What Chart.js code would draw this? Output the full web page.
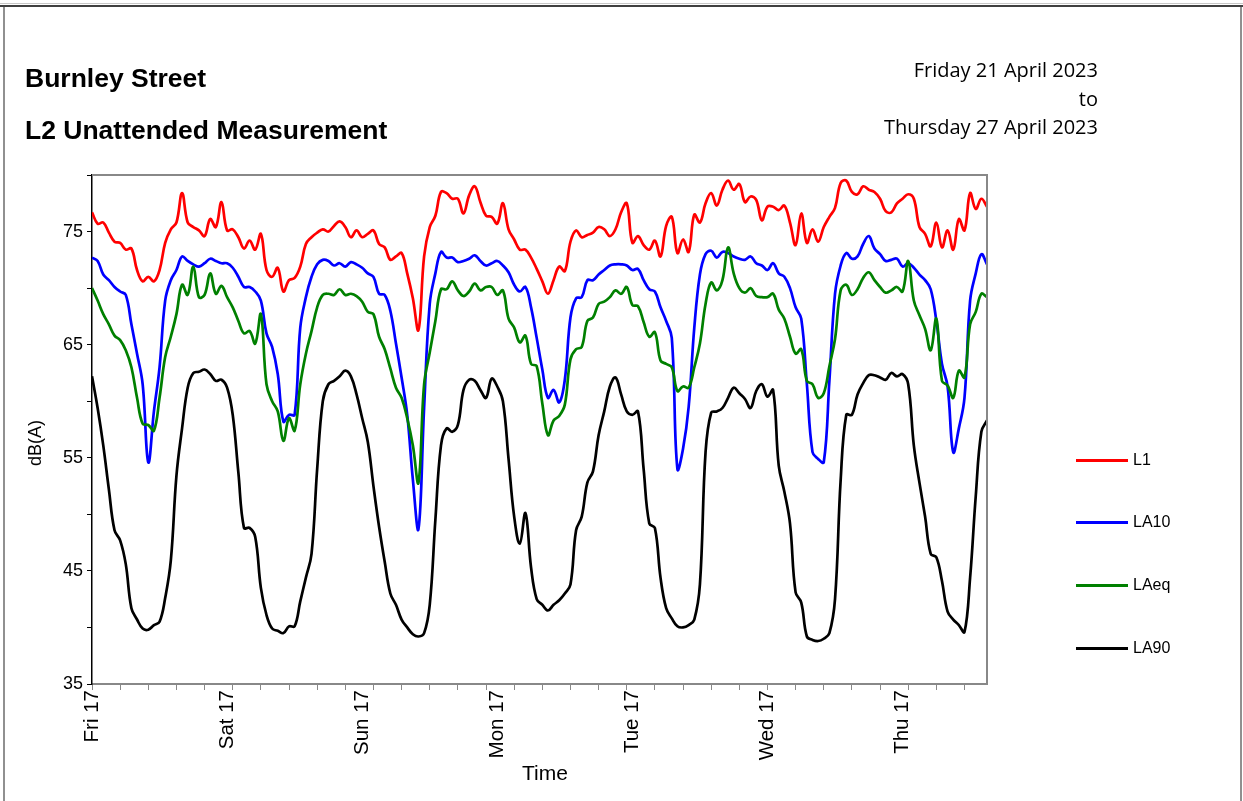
<!DOCTYPE html>
<html>
<head>
<meta charset="utf-8">
<script src="https://cdn.jsdelivr.net/npm/chart.js@4.4.0/dist/chart.umd.min.js"></script>
<style>
  body { margin: 0; background: #fff; font-family: "Liberation Sans", Arial, sans-serif; }
  #page { position: relative; width: 1243px; height: 801px; overflow: hidden; }
  #chart { position: absolute; left: 0; top: 0; }
  .abs { position: absolute; white-space: nowrap; line-height: 1; color: #000; }
  .title { font-weight: bold; font-size: 26.5px; left: 25px; }
  .date { font-family: "Open Sans", sans-serif; font-size: 20px; right: 145px; text-align: right; }
  .leg { position: absolute; left: 1076px; height: 16px; }
  .leg span.line { position: absolute; left: 0; top: 7px; width: 52px; height: 3px; }
  .leg span.txt { position: absolute; left: 57px; top: 0; font-size: 16px; line-height: 16px; }
</style>
</head>
<body>
<div id="page">
  <div style="position:absolute;left:0;top:3px;width:1243px;height:1px;background:#c8c8c8"></div>
  <div style="position:absolute;left:0;top:5px;width:1243px;height:2px;background:#404040"></div>
  <div style="position:absolute;left:3px;top:7px;width:2px;height:794px;background:#909090"></div>
  <div style="position:absolute;left:1240px;top:7px;width:2px;height:794px;background:#909090"></div>

  <canvas id="chart" width="1243" height="801"></canvas>

  <div class="abs title" style="top:65px">Burnley Street</div>
  <div class="abs title" style="top:117px">L2 Unattended Measurement</div>
  <div class="abs date" style="top:60px">Friday 21 April 2023</div>
  <div class="abs date" style="top:89px">to</div>
  <div class="abs date" style="top:117px">Thursday 27 April 2023</div>

  <div class="abs" style="font-size:21px;left:522px;top:762px">Time</div>
  <div class="abs" style="font-size:18px;left:35px;top:443px;transform:translate(-50%,-50%) rotate(-90deg)">dB(A)</div>

  <div class="leg" style="top:452px"><span class="line" style="background:#ff0000"></span><span class="txt">L1</span></div>
  <div class="leg" style="top:514px"><span class="line" style="background:#0000ff"></span><span class="txt">LA10</span></div>
  <div class="leg" style="top:577px"><span class="line" style="background:#008000"></span><span class="txt">LAeq</span></div>
  <div class="leg" style="top:640px"><span class="line" style="background:#000000"></span><span class="txt">LA90</span></div>
</div>
<script>
// hourly values starting Fri 17:00
const dayLabels = ['Fri 17', 'Sat 17', 'Sun 17', 'Mon 17', 'Tue 17', 'Wed 17', 'Thu 17'];

const l1 = [
  76.7, 75.7, 75.8, 74.9, 74.1, 74.0, 73.4, 73.5, 71.6, 70.6, 71.0, 70.6, 71.6, 74.0, 75.2, 75.8, 78.4, 75.8, 75.4, 75.1,
  74.6, 76.1, 75.4, 77.6, 75.1, 75.2, 74.5, 73.5, 74.2, 73.4, 74.8, 71.6, 71.0, 71.8, 69.7, 70.7, 70.9, 71.9, 73.9, 74.5,
  74.9, 75.2, 75.0, 75.5, 75.9, 75.4, 74.5, 75.1, 74.5, 74.8, 75.1, 73.9, 73.6, 72.5, 72.8, 73.1, 71.3, 69.1, 66.3, 72.8,
  75.4, 76.4, 78.5, 78.4, 77.9, 77.9, 76.6, 78.2, 79.0, 77.6, 76.4, 76.3, 75.7, 77.5, 75.2, 74.3, 73.4, 73.4, 72.7, 71.7,
  70.6, 69.5, 70.7, 71.9, 71.5, 74.1, 75.1, 74.5, 74.7, 74.9, 75.4, 75.2, 74.6, 75.2, 76.7, 77.5, 74.0, 74.6, 73.8, 73.4,
  74.2, 72.8, 75.5, 76.3, 73.1, 74.3, 73.2, 76.5, 75.8, 77.5, 78.4, 77.3, 78.7, 79.5, 78.7, 79.2, 77.6, 78.1, 77.8, 76.0,
  77.2, 77.2, 76.9, 77.3, 75.8, 73.8, 76.6, 74.0, 75.2, 74.1, 75.4, 76.3, 77.1, 79.3, 79.5, 78.5, 78.3, 79.0, 78.7, 78.5,
  77.9, 76.8, 76.7, 77.5, 77.9, 78.3, 77.9, 75.4, 74.8, 73.7, 75.8, 73.6, 75.1, 73.4, 76.1, 75.1, 78.4, 77.0, 77.9, 77.2
];

const la10 = [
  72.7, 72.4, 71.2, 70.7, 70.1, 69.7, 69.4, 66.8, 64.2, 61.5, 54.6, 59.1, 63.0, 68.9, 70.7, 71.6, 72.8, 72.4, 72.1, 71.9,
  72.2, 72.6, 72.4, 72.2, 72.2, 71.8, 71.0, 70.1, 70.1, 69.7, 68.9, 66.0, 64.8, 62.4, 58.2, 58.8, 58.8, 66.5, 69.2, 71.0,
  72.1, 72.5, 72.4, 72.0, 72.2, 71.9, 72.3, 72.1, 71.8, 71.3, 71.0, 69.5, 69.4, 68.0, 65.1, 62.1, 58.8, 53.1, 48.7, 59.4,
  68.6, 71.3, 73.2, 72.7, 72.7, 72.3, 72.4, 72.6, 72.9, 72.4, 72.0, 72.2, 72.4, 72.0, 71.4, 70.3, 69.7, 70.1, 68.3, 65.6,
  62.8, 60.3, 61.0, 59.9, 61.9, 67.4, 69.1, 69.2, 70.7, 70.7, 71.2, 71.6, 72.0, 72.1, 72.1, 72.0, 71.6, 71.7, 70.7, 69.9,
  69.7, 68.3, 67.1, 65.6, 54.0, 55.8, 59.5, 66.5, 71.2, 73.0, 73.3, 72.7, 73.2, 73.1, 72.8, 72.6, 72.5, 72.8, 72.2, 72.0,
  71.6, 72.2, 71.3, 71.0, 70.0, 68.3, 67.3, 61.5, 55.5, 54.9, 54.6, 61.8, 69.5, 72.0, 73.1, 72.6, 72.8, 73.9, 74.6, 73.5,
  73.0, 72.4, 72.5, 72.6, 71.9, 72.2, 71.8, 71.2, 70.7, 69.9, 67.1, 63.3, 61.3, 55.5, 57.6, 60.3, 68.9, 71.3, 73.0, 72.1
];

const laeq = [
  70.0, 68.9, 67.7, 66.8, 65.8, 65.4, 64.5, 63.0, 60.3, 58.0, 57.9, 57.4, 60.3, 63.9, 65.7, 67.7, 70.3, 69.4, 71.9, 69.2,
  69.4, 71.3, 69.5, 70.2, 69.2, 68.3, 67.1, 66.0, 66.2, 65.1, 67.7, 61.5, 60.0, 59.1, 56.5, 58.5, 57.4, 61.5, 64.2, 66.2,
  68.3, 69.4, 69.5, 69.4, 69.9, 69.4, 69.5, 69.3, 68.8, 67.9, 67.7, 65.7, 64.6, 62.9, 61.2, 60.3, 58.5, 56.1, 52.8, 61.5,
  64.3, 67.1, 69.9, 69.9, 70.6, 69.8, 69.3, 69.7, 70.4, 69.8, 70.1, 70.1, 69.4, 69.8, 67.3, 66.5, 65.2, 65.8, 63.3, 63.1,
  59.8, 57.0, 58.3, 58.7, 59.7, 63.7, 64.6, 64.8, 67.1, 67.4, 68.6, 68.8, 69.2, 69.8, 69.5, 70.1, 68.5, 68.4, 67.0, 65.7,
  66.1, 63.6, 63.3, 63.0, 60.9, 61.3, 61.2, 63.0, 65.1, 68.6, 70.5, 69.8, 70.7, 73.6, 71.3, 70.0, 69.6, 70.0, 69.3, 69.2,
  69.2, 69.5, 68.1, 67.3, 65.7, 64.2, 64.6, 61.8, 61.5, 60.3, 60.7, 63.1, 65.5, 69.8, 70.3, 69.4, 69.9, 70.9, 71.4, 70.7,
  70.1, 69.6, 69.8, 70.1, 69.7, 72.4, 68.9, 67.6, 66.4, 64.5, 67.3, 61.8, 61.4, 60.3, 62.7, 62.1, 66.8, 67.9, 69.5, 69.2
];

const la90 = [
  62.2, 59.4, 56.1, 52.2, 48.6, 47.7, 45.6, 41.7, 40.7, 39.9, 39.8, 40.2, 40.5, 42.6, 45.9, 53.4, 57.6, 61.2, 62.5, 62.6,
  62.8, 62.4, 61.8, 61.9, 61.2, 58.8, 53.7, 48.8, 48.8, 48.0, 43.5, 41.1, 39.9, 39.7, 39.5, 40.1, 40.1, 42.3, 44.4, 46.5,
  54.0, 60.0, 61.5, 61.8, 62.2, 62.7, 62.2, 60.6, 58.5, 56.4, 52.5, 48.9, 45.8, 43.0, 42.0, 40.7, 40.0, 39.4, 39.2, 39.5,
  42.0, 49.5, 56.1, 57.6, 57.3, 57.9, 61.0, 61.9, 61.8, 61.0, 60.3, 62.0, 61.3, 60.0, 54.9, 49.8, 47.4, 50.1, 45.3, 42.5,
  42.0, 41.5, 42.0, 42.4, 43.0, 43.8, 48.6, 49.8, 52.8, 53.8, 57.0, 59.1, 61.3, 62.1, 60.6, 59.1, 58.8, 59.1, 54.0, 49.2,
  48.8, 44.4, 41.7, 40.8, 40.1, 40.0, 40.2, 40.7, 43.8, 55.5, 59.0, 59.1, 59.4, 60.3, 61.2, 60.7, 60.2, 59.4, 60.9, 61.5,
  60.4, 61.0, 54.3, 52.0, 49.2, 43.1, 42.2, 39.2, 38.9, 38.8, 39.0, 39.5, 42.5, 53.0, 58.8, 58.8, 60.6, 61.6, 62.3, 62.3,
  62.1, 61.9, 62.5, 62.2, 62.4, 61.5, 56.1, 52.8, 49.8, 46.5, 46.2, 44.1, 41.4, 40.7, 40.2, 39.6, 44.4, 51.6, 57.3, 58.3
];

const toPoints = arr => arr.map((v, i) => ({ x: i, y: v }));

const line = (label, values, color, order) => ({
  label: label,
  data: toPoints(values),
  borderColor: color,
  backgroundColor: color,
  borderWidth: 2.7,
  pointRadius: 0,
  tension: 0.4,
  order: order,
});

// top and right edges of the plot box
const plotFrame = {
  id: 'plotFrame',
  afterDraw(chart) {
    const { ctx, chartArea: a } = chart;
    ctx.save();
    ctx.strokeStyle = '#888888';
    ctx.lineWidth = 2;
    ctx.beginPath();
    ctx.moveTo(a.left, a.top);
    ctx.lineTo(a.right, a.top);
    ctx.lineTo(a.right, a.bottom);
    ctx.stroke();
    ctx.restore();
  }
};

new Chart(document.getElementById('chart'), {
  type: 'line',
  data: {
    datasets: [
      line('L1', l1, '#ff0000', 4),
      line('LA10', la10, '#0000ff', 3),
      line('LAeq', laeq, '#008000', 2),
      line('LA90', la90, '#000000', 1),
    ]
  },
  options: {
    responsive: false,
    animation: false,
    devicePixelRatio: 1,
    layout: { padding: { left: 0, top: 175, right: 256, bottom: 0 } },
    plugins: { legend: { display: false }, tooltip: { enabled: false } },
    scales: {
      x: {
        type: 'linear',
        min: 0,
        max: 159,
        afterFit: s => { s.height = 117; },
        afterBuildTicks: s => {
          const t = [];
          for (let h = 0; h <= 159; h++) {
            if (h % 5 === 0 || h % 24 === 0) t.push({ value: h });
          }
          s.ticks = t;
        },
        grid: {
          drawOnChartArea: false,
          tickLength: 6,
          tickColor: c => (c.tick && c.tick.value % 5 === 0) ? '#888888' : 'rgba(0,0,0,0)',
        },
        border: { color: '#888888', width: 2 },
        ticks: {
          autoSkip: false,
          maxRotation: 90,
          minRotation: 90,
          padding: 0,
          color: '#000',
          font: { family: 'Liberation Sans', size: 20.5 },
          callback: v => (v % 24 === 0) ? dayLabels[v / 24] : '',
        },
      },
      y: {
        min: 35,
        max: 80,
        afterFit: s => { s.width = 92; },
        grid: { drawOnChartArea: false, tickLength: 5, tickColor: '#000' },
        border: { color: '#000', width: 1.5 },
        ticks: {
          stepSize: 5,
          padding: 4,
          color: '#000',
          font: { family: 'Liberation Sans', size: 18 },
          callback: v => ((v - 35) % 10 === 0) ? v : '',
        },
      },
    },
  },
  plugins: [plotFrame],
});
</script>
</body>
</html>
